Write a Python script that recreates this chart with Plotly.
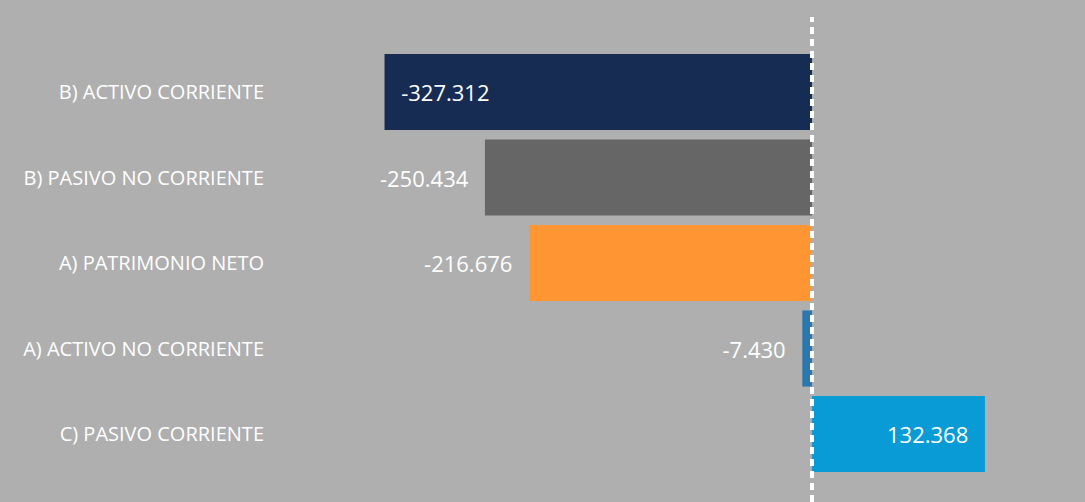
import plotly.graph_objects as go

categories = ["B) ACTIVO CORRIENTE", "B) PASIVO NO CORRIENTE", "A) PATRIMONIO NETO",
              "A) ACTIVO NO CORRIENTE", "C) PASIVO CORRIENTE"]
values = [-327312, -250434, -216676, -7430, 132368]
colors = ["#162c52", "#666666", "#ff9633", "#2b77b0", "#089bd5"]
text_positions = ["inside", "outside", "outside", "outside", "inside"]

SP = "\u00a0\u00a0\u200a"
templates = []
for v, p in zip(values, text_positions):
    if p == "inside" and v < 0:
        templates.append(SP + "%{x:,.0f}")
    else:
        templates.append("%{x:,.0f}" + SP)

BG = "#afafaf"
FONT = "Open Sans, Noto Sans, sans-serif"

fig = go.Figure(go.Bar(
    y=categories, x=values, orientation="h",
    marker=dict(color=colors, line=dict(width=0)),
    texttemplate=templates, textposition=text_positions,
    insidetextanchor="end",
    textfont=dict(color="white", size=22, family=FONT),
    outsidetextfont=dict(color="white", size=22, family=FONT),
    insidetextfont=dict(color="white", size=22, family=FONT),
    cliponaxis=False, constraintext="none",
    hoverinfo="skip",
))

fig.add_shape(type="line", xref="x", yref="paper", x0=0, x1=0, y0=0, y1=0.966,
              line=dict(color="white", width=4, dash="7px,5px"), layer="above")

fig.update_layout(
    width=1085, height=502,
    margin=dict(l=265, r=0, t=0, b=0, autoexpand=False),
    paper_bgcolor=BG, plot_bgcolor=BG,
    separators=",.",
    bargap=0.11,
    showlegend=False,
    font=dict(family=FONT, color="white"),
    xaxis=dict(range=[-418836, 209035], visible=False, showgrid=False, zeroline=False),
    yaxis=dict(categoryorder="array", categoryarray=categories,
               range=[4.795, -1.076], showgrid=False, zeroline=False,
               showline=False, ticks="", automargin=False,
               tickfont=dict(size=20, color="white", family=FONT)),
)

fig.write_html("out.html", config={"displayModeBar": False},
               post_script="document.body.style.margin='0';document.body.style.padding='0';"
                           "document.body.style.background='#afafaf';"
                           "document.body.style.overflow='hidden';")
